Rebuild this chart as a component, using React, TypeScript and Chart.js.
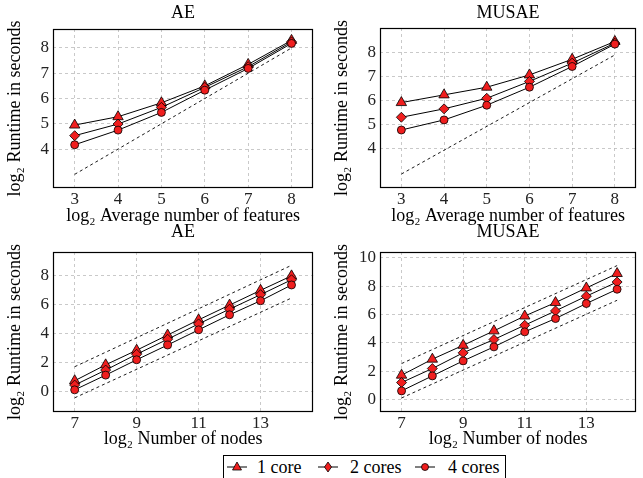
import React, { useEffect, useRef } from "react";
import { Chart, registerables } from "chart.js";
Chart.register(...registerables);

const FONT = "'Liberation Serif', 'Times New Roman', 'DejaVu Serif', serif";
const RED = "#f01e1e";

// ---- data ----
const featureX = [3, 4, 5, 6, 7, 8];
const nodesX = [7, 8, 9, 10, 11, 12, 13, 14];

const featureTicksX = [3, 4, 5, 6, 7, 8];
const featureTicksY = [4, 5, 6, 7, 8];
const nodesTicksX = [7, 9, 11, 13];
const aeNodesTicksY = [0, 2, 4, 6, 8];
const musaeNodesTicksY = [0, 2, 4, 6, 8, 10];

const aeFeat1 = [4.95, 5.28, 5.83, 6.5, 7.35, 8.3];
const aeFeat2 = [4.53, 4.99, 5.65, 6.44, 7.26, 8.24];
const aeFeat4 = [4.17, 4.75, 5.45, 6.33, 7.19, 8.18];
const aeFeatRefX = [3, 8];
const aeFeatRefY = [3.0, 8.0];

const musaeFeat1 = [5.9, 6.22, 6.54, 7.05, 7.7, 8.44];
const musaeFeat2 = [5.29, 5.64, 6.08, 6.78, 7.54, 8.37];
const musaeFeat4 = [4.76, 5.18, 5.79, 6.54, 7.4, 8.33];
const musaeFeatRefX = [3, 8];
const musaeFeatRefY = [2.93, 7.88];

const aeNodes1 = [0.72, 1.82, 2.83, 3.88, 4.93, 5.95, 6.97, 7.97];
const aeNodes2 = [0.42, 1.46, 2.55, 3.59, 4.65, 5.67, 6.67, 7.7];
const aeNodes4 = [0.09, 1.11, 2.17, 3.19, 4.24, 5.28, 6.25, 7.34];
const aeNodesRefX = [7, 14];
const aeNodesUpperY = [1.69, 8.7];
const aeNodesLowerY = [-0.46, 6.44];

const musaeNodes1 = [1.72, 2.85, 3.83, 4.85, 5.9, 6.85, 7.88, 8.9];
const musaeNodes2 = [1.2, 2.19, 3.3, 4.24, 5.25, 6.26, 7.3, 8.3];
const musaeNodes4 = [0.61, 1.67, 2.73, 3.72, 4.78, 5.72, 6.78, 7.79];
const musaeNodesRefX = [7, 14];
const musaeNodesUpperY = [2.54, 9.46];
const musaeNodesLowerY = [0.11, 7.01];

const legendLabels = ["1 core", "2 cores", "4 cores"];

// ---- helpers ----
const pts = (xs: number[], ys: number[]) => xs.map((x, i) => ({ x, y: ys[i] }));

const framePlugin = {
  id: "frame",
  afterDatasetsDraw(chart: any) {
    const { ctx, chartArea } = chart;
    const l = Math.round(chartArea.left) + 0.5;
    const t = Math.round(chartArea.top) + 0.5;
    const r = Math.round(chartArea.right) - 0.5;
    const b = Math.round(chartArea.bottom) - 0.5;
    ctx.save();
    ctx.strokeStyle = "#000";
    ctx.lineWidth = 1.2;
    ctx.strokeRect(l, t, r - l, b - t);
    ctx.restore();
  },
};

type PanelSpec = {
  title: string;
  xTitle: string;
  xs: number[];
  s1: number[];
  s2: number[];
  s4: number[];
  refs: { x: number[]; y: number[] }[];
  xMin: number;
  xMax: number;
  yMin: number;
  yMax: number;
  xTicks: number[];
  yTicks: number[];
  yAxisW: number;
  yTitlePad: number;
  xAxisH: number;
  xTitlePadBottom: number;
  titlePadTop: number;
  titlePadBottom: number;
  padRight: number;
};

function seriesDs(data: any[], style: string, radius: number, order: number) {
  return {
    data,
    showLine: true,
    borderColor: "#000",
    borderWidth: 1,
    pointStyle: style,
    pointRadius: radius,
    pointBackgroundColor: RED,
    pointBorderColor: "#000",
    pointBorderWidth: 0.8,
    fill: false,
    order,
  };
}

function makeConfig(p: PanelSpec): any {
  const datasets: any[] = [
    ...p.refs.map((r) => ({
      data: pts(r.x, r.y),
      showLine: true,
      borderColor: "#000",
      borderWidth: 0.9,
      borderDash: [3, 3],
      pointRadius: 0,
      fill: false,
      order: 5,
    })),
    seriesDs(pts(p.xs, p.s1), "triangle", 6, 2),
    seriesDs(pts(p.xs, p.s2), "rectRot", 5, 1),
    seriesDs(pts(p.xs, p.s4), "circle", 4, 0),
  ];
  const tickFont = { family: FONT, size: 17 };
  const titleFont = { family: FONT, size: 18, weight: "normal" as const };
  return {
    type: "scatter",
    data: { datasets },
    options: {
      responsive: false,
      animation: false,
      events: [],
      layout: { padding: { left: 0, right: p.padRight, top: 0, bottom: 0 } },
      plugins: {
        legend: { display: false },
        tooltip: { enabled: false },
        title: {
          display: true,
          text: p.title,
          fullSize: false,
          color: "#000",
          font: titleFont,
          padding: { top: p.titlePadTop, bottom: p.titlePadBottom },
        },
      },
      scales: {
        x: {
          type: "linear",
          min: p.xMin,
          max: p.xMax,
          afterBuildTicks: (s: any) => {
            s.ticks = p.xTicks.map((v) => ({ value: v }));
          },
          afterFit: (s: any) => {
            s.height = p.xAxisH;
          },
          grid: { color: "#bcbcbc", lineWidth: 0.8, drawTicks: false },
          border: { display: false, dash: [3, 3] },
          ticks: { font: tickFont, color: "#222", padding: 1, maxRotation: 0, autoSkip: false },
          title: {
            display: true,
            text: p.xTitle,
            color: "#000",
            font: titleFont,
            padding: { top: 0, bottom: p.xTitlePadBottom },
          },
        },
        y: {
          type: "linear",
          min: p.yMin,
          max: p.yMax,
          afterBuildTicks: (s: any) => {
            s.ticks = p.yTicks.map((v) => ({ value: v }));
          },
          afterFit: (s: any) => {
            s.width = p.yAxisW;
          },
          grid: { color: "#bcbcbc", lineWidth: 0.8, drawTicks: false },
          border: { display: false, dash: [3, 3] },
          ticks: { font: tickFont, color: "#222", padding: 4, autoSkip: false },
          title: {
            display: true,
            text: "log₂ Runtime in seconds",
            color: "#000",
            font: titleFont,
            padding: { top: p.yTitlePad, bottom: 0 },
          },
        },
      },
    },
    plugins: [framePlugin],
  };
}

function Panel(props: { left: number; top: number; width: number; height: number; spec: PanelSpec }) {
  const ref = useRef<HTMLCanvasElement>(null);
  useEffect(() => {
    const chart = new Chart(ref.current as HTMLCanvasElement, makeConfig(props.spec));
    return () => chart.destroy();
  }, []);
  return (
    <canvas
      ref={ref}
      width={props.width}
      height={props.height}
      style={{
        position: "absolute",
        left: props.left,
        top: props.top,
        width: props.width,
        height: props.height,
        display: "block",
      }}
    />
  );
}

function Symbol({ kind }: { kind: number }) {
  const c = 11;
  let marker: any;
  if (kind === 0) {
    marker = <polygon points={`11,${c - 5} 15.5,${c + 3} 6.5,${c + 3}`} fill={RED} stroke="#000" strokeWidth={0.8} />;
  } else if (kind === 1) {
    marker = <polygon points={`11,${c - 5} 14.5,${c} 11,${c + 5} 7.5,${c}`} fill={RED} stroke="#000" strokeWidth={0.8} />;
  } else {
    marker = <circle cx={11} cy={c} r={3.5} fill={RED} stroke="#000" strokeWidth={0.8} />;
  }
  return (
    <svg width={22} height={22} style={{ position: "absolute", top: 0, left: 0 }}>
      <line x1={1} y1={c} x2={21} y2={c} stroke="#000" strokeWidth={1} />
      {marker}
    </svg>
  );
}

export default function App() {
  const panels: { left: number; top: number; width: number; height: number; spec: PanelSpec }[] = [
    {
      left: 0, top: 0, width: 320, height: 230,
      spec: {
        title: "AE", xTitle: "log₂ Average number of features", xs: featureX,
        s1: aeFeat1, s2: aeFeat2, s4: aeFeat4,
        refs: [{ x: aeFeatRefX, y: aeFeatRefY }],
        xMin: 2.5, xMax: 8.5, yMin: 2.46, yMax: 8.75,
        xTicks: featureTicksX, yTicks: featureTicksY,
        yAxisW: 53, yTitlePad: 4.2, xAxisH: 42, xTitlePadBottom: 3.2,
        titlePadTop: 2.2, titlePadBottom: 5.2, padRight: 4,
      },
    },
    {
      left: 320, top: 0, width: 323, height: 230,
      spec: {
        title: "MUSAE", xTitle: "log₂ Average number of features", xs: featureX,
        s1: musaeFeat1, s2: musaeFeat2, s4: musaeFeat4,
        refs: [{ x: musaeFeatRefX, y: musaeFeatRefY }],
        xMin: 2.5, xMax: 8.5, yMin: 2.35, yMax: 9.0,
        xTicks: featureTicksX, yTicks: featureTicksY,
        yAxisW: 60, yTitlePad: 11.2, xAxisH: 42, xTitlePadBottom: 3.2,
        titlePadTop: 2.2, titlePadBottom: 4.2, padRight: 1,
      },
    },
    {
      left: 0, top: 220, width: 320, height: 234,
      spec: {
        title: "AE", xTitle: "log₂ Number of nodes", xs: nodesX,
        s1: aeNodes1, s2: aeNodes2, s4: aeNodes4,
        refs: [{ x: aeNodesRefX, y: aeNodesUpperY }, { x: aeNodesRefX, y: aeNodesLowerY }],
        xMin: 6.3, xMax: 14.7, yMin: -1.44, yMax: 9.62,
        xTicks: nodesTicksX, yTicks: aeNodesTicksY,
        yAxisW: 53, yTitlePad: 4.2, xAxisH: 42, xTitlePadBottom: 4.2,
        titlePadTop: 1.2, titlePadBottom: 9.2, padRight: 4,
      },
    },
    {
      left: 320, top: 220, width: 323, height: 234,
      spec: {
        title: "MUSAE", xTitle: "log₂ Number of nodes", xs: nodesX,
        s1: musaeNodes1, s2: musaeNodes2, s4: musaeNodes4,
        refs: [{ x: musaeNodesRefX, y: musaeNodesUpperY }, { x: musaeNodesRefX, y: musaeNodesLowerY }],
        xMin: 6.3, xMax: 14.62, yMin: -0.88, yMax: 10.42,
        xTicks: nodesTicksX, yTicks: musaeNodesTicksY,
        yAxisW: 60, yTitlePad: 11.2, xAxisH: 42, xTitlePadBottom: 4.2,
        titlePadTop: 1.2, titlePadBottom: 9.2, padRight: 1,
      },
    },
  ];

  const itemSvgLeft = [2, 93, 190];
  const itemTextLeft = [33, 126, 224];

  return (
    <div style={{ position: "absolute", left: 0, top: 0, width: 643, height: 478, background: "#fff", overflow: "hidden" }}>
      {panels.map((p, i) => (
        <Panel key={i} {...p} />
      ))}
      <div
        style={{
          position: "absolute",
          left: 223,
          top: 455,
          width: 283,
          height: 26,
          boxSizing: "border-box",
          border: "1px solid #000",
          background: "#fff",
          fontFamily: FONT,
          fontSize: 18,
          color: "#000",
        }}
      >
        {legendLabels.map((lab, i) => (
          <React.Fragment key={lab}>
            <div style={{ position: "absolute", left: itemSvgLeft[i], top: 0, width: 22, height: 22 }}>
              <Symbol kind={i} />
            </div>
            <div style={{ position: "absolute", left: itemTextLeft[i], top: 0, height: 22, lineHeight: "22px", whiteSpace: "nowrap" }}>
              {lab}
            </div>
          </React.Fragment>
        ))}
      </div>
    </div>
  );
}
